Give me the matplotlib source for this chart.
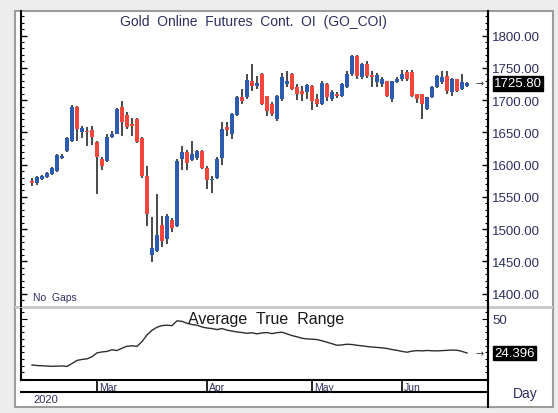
import matplotlib
matplotlib.use('Agg')
import matplotlib.pyplot as plt
import matplotlib.transforms as mtransforms
from matplotlib.patches import Rectangle
from matplotlib.lines import Line2D
from matplotlib.ticker import MultipleLocator, FixedLocator, FormatStrFormatter
import numpy as np

# daily candles, Feb 12 .. Jun 18 2020 (trading days only)
opens = [1575, 1572, 1578, 1581, 1585, 1590, 1611, 1621, 1637, 1689,
         1650, 1652, 1654, 1635, 1609, 1606, 1643, 1647, 1689, 1677,
         1663, 1670, 1641, 1582, 1460, 1466, 1506, 1485, 1514, 1505,
         1609, 1620, 1607, 1610, 1621, 1595, 1576, 1579, 1610, 1658,
         1647, 1677, 1705, 1705, 1729, 1722, 1740, 1706, 1694, 1670,
         1702, 1725, 1740, 1720, 1714, 1713, 1722, 1702, 1694, 1725,
         1702, 1709, 1706, 1720, 1740, 1768, 1736, 1756, 1739, 1728,
         1725, 1729, 1702, 1728, 1732, 1743, 1743, 1709, 1709, 1686,
         1705, 1720, 1728, 1737, 1712, 1732, 1717, 1722]
highs = [1580, 1583, 1584, 1589, 1597, 1617, 1616, 1643, 1693, 1691,
         1660, 1658, 1660, 1637, 1612, 1648, 1652, 1688, 1698, 1681,
         1672, 1673, 1643, 1598, 1519, 1554, 1520, 1523, 1518, 1608,
         1629, 1622, 1637, 1623, 1623, 1598, 1582, 1612, 1666, 1666,
         1680, 1707, 1717, 1740, 1756, 1737, 1742, 1707, 1697, 1708,
         1742, 1745, 1742, 1725, 1722, 1725, 1724, 1710, 1729, 1727,
         1715, 1713, 1727, 1745, 1770, 1770, 1758, 1760, 1745, 1742,
         1735, 1730, 1730, 1735, 1746, 1747, 1746, 1709, 1710, 1705,
         1722, 1739, 1745, 1745, 1734, 1733, 1740, 1728]
lows = [1567, 1569, 1576, 1579, 1584, 1589, 1609, 1619, 1635, 1637,
        1642, 1629, 1630, 1554, 1592, 1604, 1641, 1647, 1644, 1655,
        1644, 1633, 1580, 1505, 1449, 1465, 1472, 1477, 1495, 1503,
        1592, 1592, 1606, 1607, 1594, 1562, 1556, 1578, 1600, 1644,
        1640, 1675, 1694, 1702, 1714, 1717, 1692, 1675, 1676, 1667,
        1698, 1720, 1715, 1700, 1698, 1701, 1685, 1690, 1692, 1698,
        1699, 1703, 1704, 1718, 1738, 1732, 1733, 1734, 1720, 1720,
        1720, 1704, 1697, 1726, 1730, 1729, 1704, 1696, 1671, 1685,
        1703, 1719, 1725, 1710, 1706, 1712, 1715, 1720]
closes = [1572, 1581, 1582, 1587, 1595, 1615, 1614, 1641, 1689, 1655,
          1657, 1650, 1643, 1612, 1598, 1643, 1647, 1686, 1666, 1658,
          1660, 1635, 1582, 1524, 1471, 1491, 1482, 1520, 1502, 1606,
          1620, 1602, 1616, 1621, 1595, 1576, 1578, 1609, 1655, 1654,
          1678, 1705, 1698, 1731, 1722, 1727, 1694, 1683, 1678, 1706,
          1736, 1729, 1717, 1709, 1710, 1723, 1698, 1694, 1726, 1705,
          1712, 1706, 1725, 1740, 1768, 1737, 1756, 1737, 1736, 1739,
          1732, 1706, 1729, 1732, 1740, 1732, 1706, 1702, 1694, 1705,
          1720, 1737, 1735, 1714, 1732, 1714, 1728, 1725.80]
atr = [15.4, 15.0, 14.8, 14.6, 14.4, 14.5, 14.7, 14.3, 16.5, 18.8,
       19.6, 20.0, 21.6, 24.5, 25.2, 25.6, 26.8, 26.3, 28.0, 29.5,
       29.8, 29.4, 33.0, 38.0, 41.5, 43.8, 45.0, 45.3, 45.0, 48.6,
       48.2, 46.8, 45.8, 45.3, 44.0, 43.2, 42.8, 42.0, 42.8, 41.6,
       40.9, 40.2, 39.8, 39.2, 39.6, 38.8, 39.5, 39.8, 39.0, 39.7,
       40.0, 38.8, 37.5, 36.6, 35.5, 35.0, 34.8, 34.5, 33.6, 32.5,
       31.4, 30.2, 30.5, 31.0, 30.8, 30.2, 29.8, 29.3, 28.9, 28.6,
       28.3, 27.8, 27.0, 26.4, 25.6, 25.0, 25.8, 26.2, 26.0, 26.3,
       26.1, 26.0, 26.2, 26.4, 26.6, 26.5, 25.6, 24.396]
month_pos = [13, 35, 56, 74]
month_names = ['Mar', 'Apr', 'May', 'Jun']
year_label = '2020'
title = 'Gold  Online  Futures  Cont.  OI  (GO_COI)'

UP = '#2b5cb0'
DOWN = '#f0463c'
WICK = '#3a3a3a'
NAVY = '#2b2f5e'
FONT = 'Liberation Sans'

W, H = 558, 414
def fx(px): return px / W
def fy(py): return 1 - py / H

fig = plt.figure(figsize=(W / 100, H / 100), dpi=100)
fig.patch.set_facecolor('#ededed')
fig.add_artist(Rectangle((fx(15), fy(408)), fx(553) - fx(15), fy(12) - fy(408),
                         transform=fig.transFigure, facecolor='white',
                         edgecolor='#9c9c9c', lw=1.5, zorder=0))
fig.add_artist(Rectangle((fx(15), fy(310)), fx(553) - fx(15), fy(307) - fy(310),
                         transform=fig.transFigure, facecolor='#c9c9c9',
                         edgecolor='none', zorder=0))

x = np.arange(len(closes))
o = np.array(opens, float); c = np.array(closes, float)
up = c >= o
cols = np.where(up, UP, DOWN)
bottoms = np.minimum(o, c)
heights = np.maximum(np.abs(c - o), 1.2)
xlim = (-2.2, 91.2)

# price panel
ax1 = fig.add_axes([fx(21), fy(307), fx(488) - fx(21), fy(12) - fy(307)])
ax1.set_facecolor('none')
ax1.vlines(x, lows, highs, color=WICK, lw=1.3, zorder=2)
ax1.bar(x, heights, bottom=bottoms, width=0.8, color=cols, zorder=3)
ax1.set_xlim(*xlim)
ax1.set_ylim(1381, 1838)
ax1.yaxis.set_major_locator(MultipleLocator(50))
ax1.yaxis.set_minor_locator(MultipleLocator(10))
ax1.yaxis.set_major_formatter(FormatStrFormatter('%.2f'))
ax1.tick_params(axis='y', which='both', direction='in', left=True, right=True,
                labelleft=False, labelright=True, pad=3, colors='black',
                labelcolor=NAVY, labelsize=9.5)
ax1.tick_params(axis='y', which='major', length=4, width=1)
ax1.tick_params(axis='y', which='minor', length=2.5, width=0.8)
ax1.set_xticks([])
for lab in ax1.get_yticklabels():
    lab.set_family(FONT)
for s in ['top', 'bottom']:
    ax1.spines[s].set_visible(False)
for s in ['left', 'right']:
    ax1.spines[s].set_linewidth(1.5)

tr1 = mtransforms.blended_transform_factory(ax1.transAxes, ax1.transData)
ax1.text(1.013, closes[-1], f'{closes[-1]:.2f}', transform=tr1, va='center',
         ha='left', color='white', fontsize=9.5, family=FONT,
         bbox=dict(boxstyle='square,pad=0.1', fc='black', ec='black'))
ax1.text(0.981, closes[-1], '\u2192', transform=tr1, va='center', ha='center',
         fontsize=7, color='#333333', family='DejaVu Sans')

# ATR panel
ax2 = fig.add_axes([fx(21), fy(381), fx(488) - fx(21), fy(310) - fy(381)])
ax2.set_facecolor('none')
ax2.plot(x, atr, color='#2e2e2e', lw=1.0)
ax2.set_xlim(*xlim)
ax2.set_ylim(4.1, 57.5)
ax2.yaxis.set_major_locator(FixedLocator([50]))
ax2.yaxis.set_minor_locator(MultipleLocator(5))
ax2.tick_params(axis='y', which='both', direction='in', left=True, right=True,
                labelleft=False, labelright=True, pad=3, labelcolor=NAVY,
                labelsize=9.5)
ax2.tick_params(axis='y', which='major', length=4)
ax2.tick_params(axis='y', which='minor', length=2.5, width=0.8)
ax2.set_xticks([])
for lab in ax2.get_yticklabels():
    lab.set_family(FONT)
ax2.spines['top'].set_visible(False)
for s in ['left', 'right', 'bottom']:
    ax2.spines[s].set_linewidth(1.5)
tr2 = mtransforms.blended_transform_factory(ax2.transAxes, ax2.transData)
ax2.text(1.013, atr[-1], f'{atr[-1]:.3f}', transform=tr2, va='center',
         ha='left', color='white', fontsize=9.5, family=FONT,
         bbox=dict(boxstyle='square,pad=0.1', fc='black', ec='black'))
ax2.text(0.981, atr[-1], '\u2192', transform=tr2, va='center', ha='center',
         fontsize=7, color='#333333', family='DejaVu Sans')

# date strip
ax3 = fig.add_axes([fx(21), fy(393), fx(488) - fx(21), fy(381) - fy(393)])
ax3.set_facecolor('none')
ax3.set_xlim(*xlim)
ax3.set_ylim(0, 1)
ax3.set_yticks([])
ax3.set_xticks(month_pos)
ax3.tick_params(axis='x', direction='in', length=9, width=1.2, labelbottom=False)
for s in ['top', 'left', 'right']:
    ax3.spines[s].set_visible(False)
ax3.spines['bottom'].set_linewidth(1.5)
tr3 = mtransforms.blended_transform_factory(ax3.transData, ax3.transAxes)
for p, name in zip(month_pos, month_names):
    ax3.text(p + 0.4, 0.45, name, transform=tr3, ha='left', va='center',
             fontsize=7.5, family=FONT, color=NAVY)

fig.add_artist(Line2D([fx(488), fx(488)], [fy(12), fy(408)],
                      transform=fig.transFigure, color='black', lw=1.5))

fig.text(fx(253), fy(22), title, ha='center', va='center', fontsize=10,
         family=FONT, color=NAVY)
fig.text(fx(33), fy(298), 'No  Gaps', ha='left', va='center', fontsize=7.5,
         family=FONT, color=NAVY)
fig.text(fx(266), fy(320), 'Average  True  Range', ha='center', va='center',
         fontsize=11.5, family=FONT, color='#1a1a1a')
fig.text(fx(33), fy(400), year_label, ha='left', va='center', fontsize=8,
         family=FONT, color=NAVY)
fig.text(fx(525), fy(394), 'Day', ha='center', va='center', fontsize=10,
         family=FONT, color=NAVY)

fig.savefig('out.png', dpi=100, facecolor=fig.get_facecolor())
